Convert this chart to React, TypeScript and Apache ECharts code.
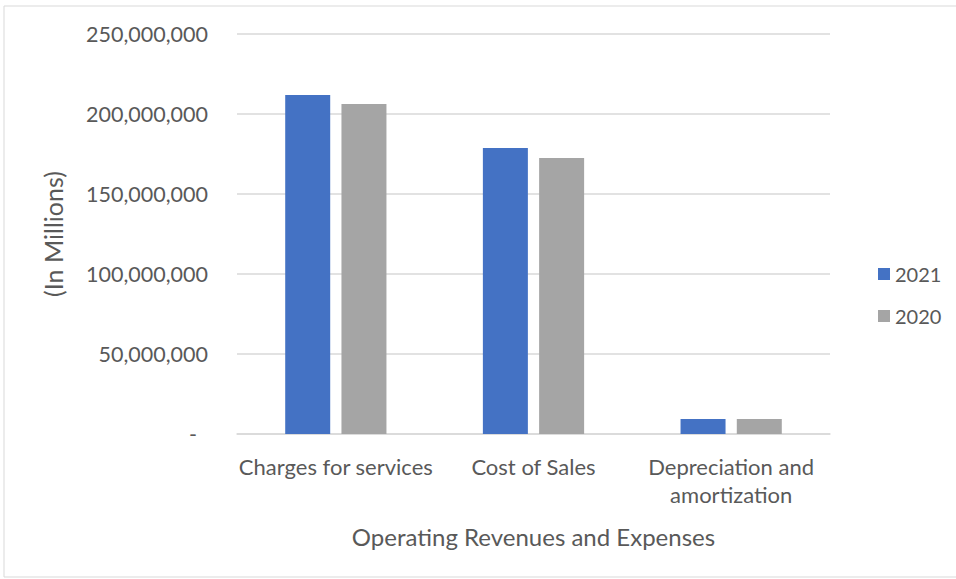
import React, { useEffect, useRef } from "react";
import * as echarts from "echarts";

const categories = ["Charges for services", "Cost of Sales", "Depreciation and\namortization"];
const values2021 = [211900000, 178800000, 9400000];
const values2020 = [206200000, 172500000, 9400000];
const seriesNames = ["2021", "2020"];

export default function App() {
  const ref = useRef<HTMLDivElement>(null);
  useEffect(() => {
    document.body.style.margin = "0";
    const chart = echarts.init(ref.current!, null, { renderer: "svg" });
    const font = "Lato";
    chart.setOption({
      animation: false,
      backgroundColor: "#ffffff",
      textStyle: { fontFamily: font },
      graphic: [
        {
          type: "rect",
          shape: { x: 4, y: 6, width: 1000, height: 571 },
          style: { fill: "none", stroke: "#d9d9d9", lineWidth: 1 },
          silent: true,
        },
      ],
      grid: { left: 237, right: 126, top: 34, bottom: 145 },
      legend: {
        orient: "vertical",
        left: 873,
        top: 259,
        itemWidth: 12,
        itemHeight: 12,
        itemGap: 22,
        icon: "rect",
        textStyle: { color: "#595959", fontSize: 20, fontFamily: font },
        data: seriesNames,
      },
      xAxis: {
        type: "category",
        data: categories,
        name: "Operating Revenues and Expenses",
        nameLocation: "middle",
        nameGap: 90,
        nameTextStyle: { color: "#595959", fontSize: 24, fontFamily: font },
        axisLine: { lineStyle: { color: "#d9d9d9", width: 1.5 } },
        axisTick: { show: false },
        axisLabel: { color: "#595959", fontSize: 22, lineHeight: 28, margin: 18, interval: 0, fontFamily: font },
      },
      yAxis: {
        type: "value",
        min: 0,
        max: 250000000,
        interval: 50000000,
        name: "(In Millions)",
        nameLocation: "middle",
        nameGap: 172,
        nameTextStyle: { color: "#595959", fontSize: 25, fontFamily: font },
        axisLine: { show: false },
        axisTick: { show: false },
        splitLine: { lineStyle: { color: "#d9d9d9", width: 1.5 } },
        axisLabel: {
          color: "#595959",
          fontSize: 21.5,
          margin: 29,
          fontFamily: font,
          formatter: (v: number) => (v === 0 ? "{z|-}" : v.toLocaleString("en-US")),
          rich: { z: { color: "#595959", fontSize: 21.5, padding: [0, 11, 0, 0], fontFamily: font } },
        },
      },
      series: [
        {
          name: seriesNames[0],
          type: "bar",
          data: values2021,
          barWidth: 45,
          barGap: "25%",
          itemStyle: { color: "#4472C4" },
        },
        {
          name: seriesNames[1],
          type: "bar",
          data: values2020,
          barWidth: 45,
          itemStyle: { color: "#A5A5A5" },
        },
      ],
    });
    return () => chart.dispose();
  }, []);
  return <div ref={ref} style={{ width: 956, height: 579 }} />;
}
